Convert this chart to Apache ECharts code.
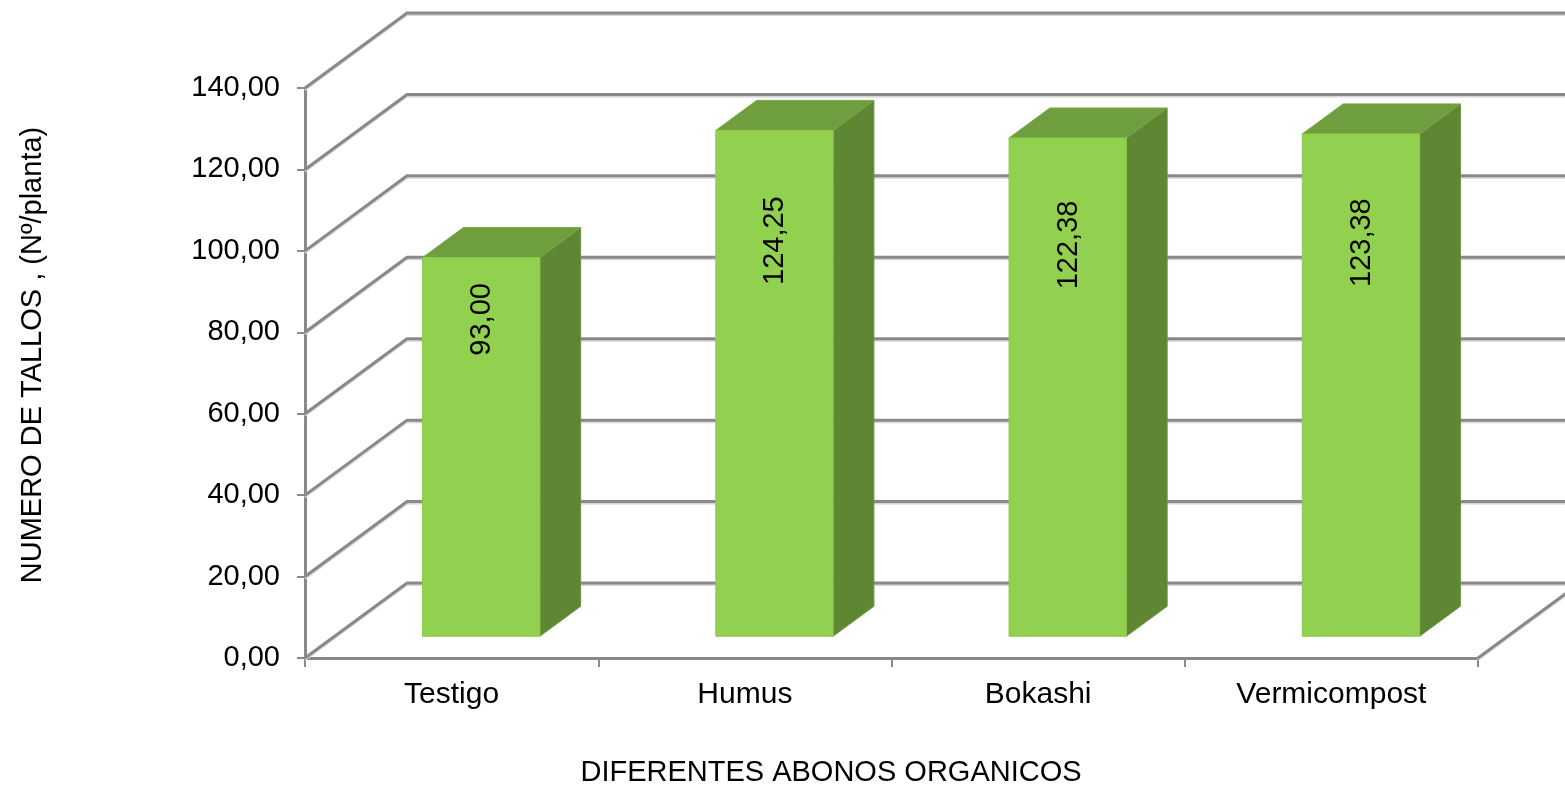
<!DOCTYPE html>
<html>
<head>
<meta charset="utf-8">
<script src="https://cdn.jsdelivr.net/npm/echarts@6/dist/echarts.min.js"></script>
<style>
  html, body { margin: 0; padding: 0; background: #fff; }
  #chart { width: 1565px; height: 788px; }
</style>
</head>
<body>
<div id="chart"></div>
<script>
// Number of stems per plant for each organic fertiliser
const categories = ['Testigo', 'Humus', 'Bokashi', 'Vermicompost'];
const tallos = [93.00, 124.25, 122.38, 123.38];
const yTicks = [0, 20, 40, 60, 80, 100, 120, 140];

const FONT = '"Liberation Sans", Arial, sans-serif';
// oblique depth of the 3D box (pixels from front plane to back wall)
const DX = 102, DY = -75;
const GRID_COLOR = '#898989';
const SHADOW_COLOR = '#d6d6d6';

const fmt = v => v.toFixed(2).replace('.', ',');

function line(points, color, width, dy) {
  return {
    type: 'polyline',
    shape: { points: points.map(p => [p[0], p[1] + dy]) },
    style: { stroke: color, lineWidth: width, fill: null, lineJoin: 'miter' }
  };
}

// side wall + back wall gridlines for each tick value
function renderWall(params, api) {
  const cs = params.coordSys;
  const v = api.value(1);
  const y = api.coord([0, v])[1];
  const L = cs.x, R = cs.x + cs.width;
  const pts = [[L, y], [L + DX, y + DY], [R + DX, y + DY]];
  if (v === 0) pts.push([R, y]);
  return {
    type: 'group',
    children: [
      line(pts, SHADOW_COLOR, 2, 2),
      line(pts, GRID_COLOR, 3, 0)
    ]
  };
}

// one 3D column: front face, right side, top, and rotated value label
function renderBar(params, api) {
  const i = api.value(0), v = api.value(1);
  const base = api.coord([i, 0]);
  const top = api.coord([i, v]);
  const band = api.size([1, 0])[0];
  const bw = band * 0.4;
  const fx = DX * 0.29, fy = DY * 0.29;   // bar front sits part-way into the depth
  const bdx = DX * 0.4, bdy = DY * 0.4;   // bar depth
  const xl = base[0] - bw / 2 + fx, xr = xl + bw;
  const yt = top[1] + fy, yb = base[1] + fy;
  // label centre sits lower below the top on taller columns
  const ly = api.coord([i, v * (1 - v / 570)])[1] + fy;
  return {
    type: 'group',
    children: [
      {
        type: 'polygon',
        shape: { points: [[xr, yt], [xr + bdx, yt + bdy], [xr + bdx, yb + bdy], [xr, yb]] },
        style: { fill: '#5f8733', stroke: '#6a9639', lineWidth: 1 }
      },
      {
        type: 'polygon',
        shape: { points: [[xl, yt], [xl + bdx, yt + bdy], [xr + bdx, yt + bdy], [xr, yt]] },
        style: { fill: '#6e9e3d', stroke: '#78a846', lineWidth: 1 }
      },
      {
        type: 'rect',
        shape: { x: xl, y: yt, width: bw, height: yb - yt },
        style: { fill: '#92d050', stroke: '#8cc84c', lineWidth: 1 }
      },
      {
        type: 'text',
        x: (xl + xr) / 2 + 1,
        y: ly,
        rotation: Math.PI / 2,
        style: {
          text: fmt(v), fill: '#000', fontSize: 29, fontFamily: FONT,
          align: 'center', verticalAlign: 'middle',
          textAlign: 'center', textVerticalAlign: 'middle'
        }
      }
    ]
  };
}

const chart = echarts.init(document.getElementById('chart'), null, { renderer: 'canvas' });
chart.setOption({
  animation: false,
  backgroundColor: '#ffffff',
  grid: { left: 305, right: 87, top: 88, bottom: 130, containLabel: false },
  xAxis: {
    type: 'category',
    data: categories,
    boundaryGap: true,
    axisLine: { show: true, lineStyle: { color: GRID_COLOR, width: 3 } },
    axisTick: { show: true, alignWithLabel: false, length: 9, lineStyle: { color: GRID_COLOR, width: 2 } },
    axisLabel: { color: '#000', fontSize: 30, fontFamily: FONT, margin: 22 },
    splitLine: { show: false }
  },
  yAxis: {
    type: 'value',
    min: 0, max: 140, interval: 20,
    axisLine: { show: true, lineStyle: { color: GRID_COLOR, width: 3 } },
    axisTick: { show: true, length: 8, lineStyle: { color: GRID_COLOR, width: 2 } },
    axisLabel: { color: '#000', fontSize: 29, fontFamily: FONT, margin: 25, formatter: v => fmt(v) },
    splitLine: { show: false }
  },
  graphic: [
    {
      type: 'text', x: 33, y: 355, rotation: Math.PI / 2,
      style: {
        text: 'NUMERO DE TALLOS , (Nº/planta)', fill: '#000', fontSize: 29, fontFamily: FONT,
        align: 'center', verticalAlign: 'middle', textAlign: 'center', textVerticalAlign: 'middle'
      }
    },
    {
      type: 'text', x: 831, y: 773,
      style: {
        text: 'DIFERENTES ABONOS ORGANICOS', fill: '#000', fontSize: 29, fontFamily: FONT,
        align: 'center', verticalAlign: 'middle', textAlign: 'center', textVerticalAlign: 'middle'
      }
    }
  ],
  series: [
    {
      type: 'custom',
      name: 'walls',
      clip: false,
      z: 1,
      renderItem: renderWall,
      encode: { x: 0, y: 1 },
      data: yTicks.map(v => [0, v]),
      silent: true
    },
    {
      type: 'custom',
      name: 'tallos',
      clip: false,
      z: 3,
      renderItem: renderBar,
      encode: { x: 0, y: 1 },
      data: tallos.map((v, i) => [i, v])
    }
  ]
});
</script>
</body>
</html>
